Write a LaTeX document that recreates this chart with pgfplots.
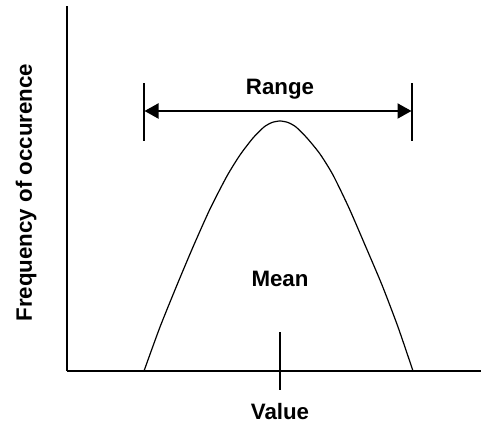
\documentclass[border=0pt]{standalone}
\usepackage{pgfplots}
\pgfplotsset{compat=1.18}
\usetikzlibrary{arrows.meta}
\usepackage{fontspec}
\setmainfont{Liberation Sans}

\begin{document}
\begin{tikzpicture}
\begin{axis}[
 x=0.5pt, y=0.5pt,
 xmin=67, xmax=481, ymin=0, ymax=365,
 axis lines=left,
 axis line style={-, line width=1pt},
 xtick=\empty, ytick=\empty,
 clip=false,
 font=\fontsize{11.15}{13}\selectfont\bfseries
]
% frequency curve
\addplot[black, line width=0.6pt, smooth, tension=0.4] coordinates {
 (144,0) (160,44) (177,86) (193,124) (210,162) (227,195) (240,216)
 (253,233) (264,244) (272,248.5) (280,250) (288,248.5) (296,244)
 (307,233) (320,217) (333,196) (349,163) (365,126) (382,86) (398,44) (413,0)};
% range bars and arrow
\addplot[black, line width=0.6pt] coordinates {(144,230) (144,288)};
\addplot[black, line width=0.6pt] coordinates {(412,230) (412,288)};
\draw[line width=1pt, {Triangle[length=7pt,width=7.5pt]}-{Triangle[length=7pt,width=7.5pt]}]
 (axis cs:144.5,260) -- (axis cs:411.5,260);
% mean tick
\addplot[black, line width=0.8pt] coordinates {(280,-19) (280,39)};
\node[anchor=base] at (axis cs:280,276) {Range};
\node[anchor=base] at (axis cs:280,84) {Mean};
\node[anchor=base] at (axis cs:280,-49) {Value};
\node[anchor=base, rotate=90] at (axis cs:32,178.5) {Frequency of occurence};
\coordinate (bl) at (axis cs:0,-55);
\coordinate (tr) at (axis cs:481,371);
\end{axis}
\pgfresetboundingbox
\path (bl) rectangle (tr);
\end{tikzpicture}
\end{document}
